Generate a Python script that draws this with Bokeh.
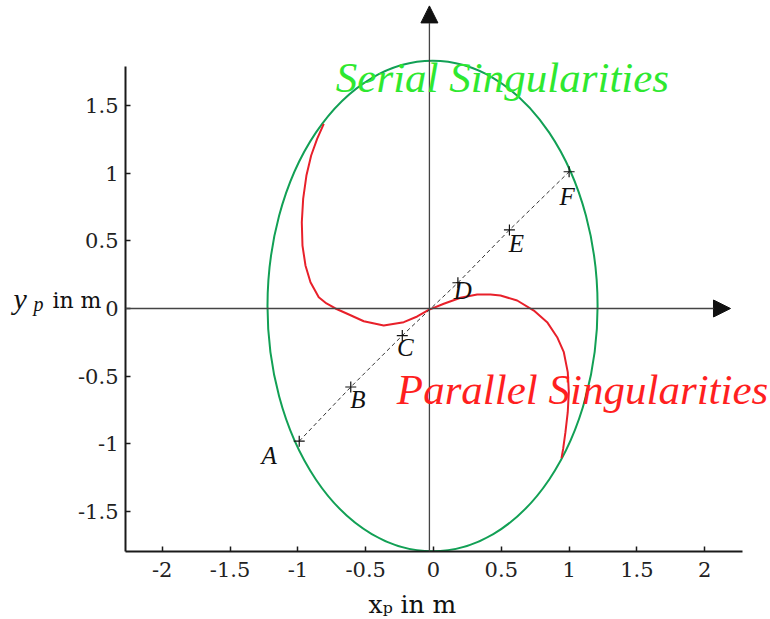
from bokeh.plotting import figure
from bokeh.models import Label, Arrow, NormalHead, FixedTicker
from bokeh.embed import file_html
from bokeh.resources import INLINE
from bokeh.core.properties import value

# ---------------- data ----------------
x_ticks = [-2, -1.5, -1, -0.5, 0, 0.5, 1, 1.5, 2]
x_tick_labels = ["-2", "-1.5", "-1", "-0.5", "0", "0.5", "1", "1.5", "2"]
y_ticks = [-1.5, -1, -0.5, 0, 0.5, 1, 1.5]
y_tick_labels = ["-1.5", "-1", "-0.5", "0", "0.5", "1", "1.5"]

# serial singularities: ellipse
ellipse_cx = [-0.007]
ellipse_cy = [0.018]
ellipse_w = [2.434]
ellipse_h = [3.624]

# parallel singularities curve
parallel_x = [-0.809, -0.858, -0.902, -0.937, -0.961, -0.971, -0.966, -0.944,
              -0.907, -0.846, -0.789, -0.723, -0.636, -0.514, -0.367, -0.219,
              -0.120, -0.035, 0.076, 0.199, 0.322, 0.420, 0.494, 0.617,
              0.740, 0.838, 0.912, 0.961, 0.990, 0.998, 0.990, 0.973,
              0.956, 0.944]
parallel_y = [1.364, 1.253, 1.130, 0.982, 0.810, 0.637, 0.465, 0.318,
              0.194, 0.083, 0.037, 0.000, -0.039, -0.094, -0.126, -0.101,
              -0.059, -0.010, 0.035, 0.079, 0.103, 0.103, 0.096, 0.059,
              -0.015, -0.101, -0.212, -0.323, -0.470, -0.618, -0.766, -0.914,
              -1.037, -1.105]

# trajectory points A..F
path_names = ["A", "B", "C", "D", "E", "F"]
path_x = [-0.99, -0.61, -0.23, 0.18, 0.56, 1.00]
path_y = [-0.98, -0.58, -0.20, 0.19, 0.58, 1.01]

axis_cross_x = -0.03

# ---------------- figure ----------------
X_RANGE = (-2.271, 2.485)
Y_RANGE = (-1.795, 2.275)

p = figure(width=770, height=619, x_range=X_RANGE, y_range=Y_RANGE,
           output_backend="svg", toolbar_location=None,
           min_border_left=125, min_border_right=0, min_border_top=0,
           min_border_bottom=68)
p.grid.visible = False
p.outline_line_color = None
p.background_fill_color = "white"

p.xaxis.ticker = FixedTicker(ticks=x_ticks)
p.xaxis.major_label_overrides = {t: l for t, l in zip(x_ticks, x_tick_labels)}
p.yaxis.ticker = FixedTicker(ticks=y_ticks)
p.yaxis.major_label_overrides = {t: l for t, l in zip(y_ticks, y_tick_labels)}
p.xaxis.bounds = (-2.271, 2.279)
p.yaxis.bounds = (-1.795, 1.787)
for ax in (p.xaxis, p.yaxis):
    ax.axis_line_width = 2
    ax.axis_line_color = "#1a1a1a"
    ax.major_tick_in = 5
    ax.major_tick_out = 0
    ax.major_tick_line_width = 1.5
    ax.major_tick_line_color = "#1a1a1a"
    ax.minor_tick_line_color = None
    ax.major_label_text_font = "DejaVu Serif"
    ax.major_label_text_font_size = "21px"
    ax.major_label_text_color = "#222222"
p.xaxis.major_label_standoff = 10
p.yaxis.major_label_standoff = 7

# crossing axes with arrows
p.add_layout(Arrow(end=NormalHead(size=17, fill_color="#111111", line_color="#111111"),
                   x_start=X_RANGE[0], y_start=0, x_end=2.19, y_end=0,
                   line_color="#444444", line_width=1.3))
p.add_layout(Arrow(end=NormalHead(size=17, fill_color="#111111", line_color="#111111"),
                   x_start=axis_cross_x, y_start=Y_RANGE[0], x_end=axis_cross_x, y_end=2.235,
                   line_color="#444444", line_width=1.3))

# ellipse
p.ellipse(x=ellipse_cx, y=ellipse_cy, width=ellipse_w, height=ellipse_h,
          fill_color=None, line_color="#12a055", line_width=2)

# parallel singularity curve
p.line(parallel_x, parallel_y, line_color="#e8202a", line_width=2, line_join="round")

# dashed trajectory and points
p.line(path_x, path_y, line_color="#333333", line_width=1, line_dash="4 3")
p.scatter(path_x, path_y, marker="cross", size=11, line_color="#111111", line_width=1.2)

label_dx = [-30, 7, 3, 5, 7, -2]
label_dy = [14, 12, 12, 8, 14, 25]
p.text(x=path_x, y=path_y, text=path_names, x_offset=label_dx, y_offset=label_dy,
       text_font=value("Liberation Serif"), text_font_style="italic",
       text_font_size="25px", text_align="center", text_baseline="middle",
       text_color="#111111")

# big annotations
p.add_layout(Label(x=-0.72, y=1.706, text="Serial Singularities",
                   text_font="Liberation Serif", text_font_style="italic",
                   text_font_size="43px", text_color="#2ee830",
                   text_baseline="alphabetic"))
p.add_layout(Label(x=-0.27, y=-0.598, text="Parallel Singularities",
                   text_font="Liberation Serif", text_font_style="italic",
                   text_font_size="43px", text_color="#ff1f1f",
                   text_baseline="alphabetic"))

# y-axis label (y_p in m), drawn in the left panel
p.add_layout(Label(x=-3.097, y=0.074, text="y",
                   text_font="Liberation Serif", text_font_style="italic",
                   text_font_size="30px", text_color="#111111",
                   text_baseline="alphabetic"), "left")
p.add_layout(Label(x=-2.95, y=0.03, text="p",
                   text_font="Liberation Serif", text_font_style="italic",
                   text_font_size="20px", text_color="#111111",
                   text_baseline="alphabetic"), "left")
p.add_layout(Label(x=-2.81, y=0.059, text="in m",
                   text_font="DejaVu Serif", text_font_size="22px",
                   text_color="#111111", text_baseline="alphabetic"), "left")

# x-axis label (x_p in m), drawn in the bottom panel
p.add_layout(Label(x=-0.479, y=-2.186, text="x\u209a in m", text_font="DejaVu Serif",
                   text_font_size="25px", text_color="#111111",
                   text_baseline="alphabetic"), "below")

open("out.html", "w").write(file_html(p, INLINE))
